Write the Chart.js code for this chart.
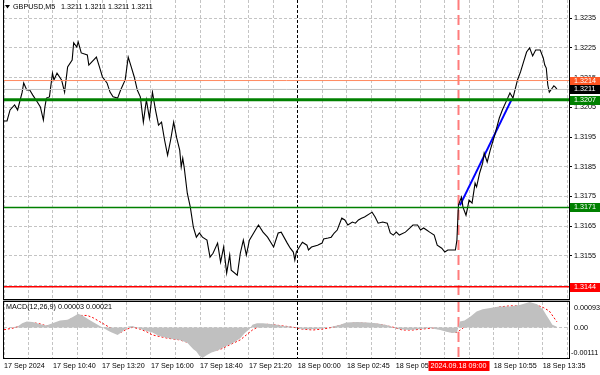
<!DOCTYPE html>
<html>
<head>
<meta charset="utf-8">
<script src="https://cdn.jsdelivr.net/npm/chart.js@4.4.1/dist/chart.umd.min.js"></script>
<style>
  html, body { margin: 0; padding: 0; background: #fff; }
  #wrap { position: relative; width: 600px; height: 375px; overflow: hidden; }
  #main_chart { position: absolute; left: 0; top: 0; }
  #macd_chart { position: absolute; left: 0; top: 300px; }
</style>
</head>
<body>
<div id="wrap">
  <canvas id="main_chart" width="600" height="300"></canvas>
  <canvas id="macd_chart" width="600" height="75"></canvas>
</div>
<script>
// ---------------- DATA ----------------
// x = bar number counted from 17 Sep 08:00 (M5)
const priceBars = [
  0, 2, 4, 7, 9, 12, 13, 15, 17, 19,
  22, 24, 26, 27, 28, 30, 32, 33, 35, 38,
  40, 42, 45, 46, 48, 49, 51, 55, 56, 58,
  61, 63, 65, 68, 70, 72, 75, 77, 80, 82,
  84, 86, 88, 90, 92, 94, 96, 98, 100, 102,
  104, 106, 108, 110, 112, 114, 116, 117, 118, 119,
  121, 123, 125, 127, 129, 131, 134, 136, 138, 141,
  143, 145, 147, 149, 150, 154, 156, 158, 160, 162,
  166, 168, 171, 174, 178, 181, 183, 187, 189, 191,
  192, 193, 195, 197, 200, 201, 203, 207, 210, 211,
  214, 216, 218, 220, 223, 225, 227, 230, 232, 234,
  236, 238, 242, 243, 245, 247, 250, 253, 255, 257,
  259, 261, 265, 268, 270, 273, 275, 277, 279, 281,
  284, 286, 289, 291, 293, 296, 298, 299, 300, 302,
  303, 305, 306, 307, 309, 310, 311, 312, 314, 316,
  317, 319, 321, 324, 327, 329, 332, 334, 336, 339,
  341, 343, 345, 347, 349, 351, 354, 356, 357, 358,
  359, 360, 362, 363, 364, 365
];
const priceValues = [
  1.32004, 1.32004, 1.32041, 1.32058, 1.32041, 1.32101, 1.32132, 1.32108, 1.32108, 1.32091,
  1.32068, 1.32051, 1.32007, 1.32051, 1.32081, 1.32085, 1.32165, 1.32142, 1.32165, 1.32142,
  1.32101, 1.32186, 1.32209, 1.32267, 1.32253, 1.32270, 1.32233, 1.32226, 1.32192, 1.32203,
  1.32219, 1.32186, 1.32152, 1.32132, 1.32101, 1.32085, 1.32081, 1.32108, 1.32142, 1.32219,
  1.32186, 1.32152, 1.32108, 1.32085, 1.32000, 1.32075, 1.32014, 1.32101, 1.32041, 1.31990,
  1.32000, 1.31940, 1.31889, 1.31940, 1.32000, 1.31947, 1.31906, 1.31849, 1.31879, 1.31846,
  1.31761, 1.31714, 1.31647, 1.31613, 1.31627, 1.31613, 1.31603, 1.31546, 1.31559, 1.31593,
  1.31529, 1.31580, 1.31492, 1.31553, 1.31502, 1.31485, 1.31559, 1.31603, 1.31553, 1.31603,
  1.31637, 1.31654, 1.31630, 1.31613, 1.31580, 1.31627, 1.31630, 1.31593, 1.31576, 1.31563,
  1.31536, 1.31563, 1.31580, 1.31596, 1.31586, 1.31570, 1.31580, 1.31586, 1.31593, 1.31607,
  1.31610, 1.31613, 1.31627, 1.31637, 1.31677, 1.31671, 1.31654, 1.31664, 1.31660, 1.31671,
  1.31677, 1.31681, 1.31694, 1.31697, 1.31681, 1.31660, 1.31664, 1.31660, 1.31627, 1.31620,
  1.31630, 1.31620, 1.31630, 1.31644, 1.31654, 1.31654, 1.31637, 1.31644, 1.31637, 1.31630,
  1.31620, 1.31586, 1.31576, 1.31563, 1.31570, 1.31570, 1.31570, 1.31603, 1.31721, 1.31748,
  1.31714, 1.31687, 1.31711, 1.31738, 1.31728, 1.31761, 1.31795, 1.31782, 1.31829, 1.31862,
  1.31896, 1.31866, 1.31906, 1.31957, 1.32014, 1.32041, 1.32075, 1.32098, 1.32081, 1.32142,
  1.32169, 1.32203, 1.32236, 1.32250, 1.32223, 1.32243, 1.32243, 1.32216, 1.32192, 1.32182,
  1.32125, 1.32101, 1.32115, 1.32122, 1.32118, 1.32111
];

// horizontal levels: 1.3214, bid, 1.3207, 1.3171, 1.3144
const levelValues = [1.3214, 1.3211, 1.32075, 1.31713, 1.31446];
const levelLabels = ["1.3214", "1.3211", "1.3207", "1.3171", "1.3144"];

// blue trend line
const trendBars = [301, 335];
const trendValues = [1.3172, 1.32075];

// MACD(12,26,9)
const macdBars = [
  0, 4, 9, 12, 15, 19, 24, 28, 32, 37,
  42, 46, 49, 52, 57, 61, 65, 70, 75, 78,
  82, 85, 88, 93, 98, 102, 106, 111, 116, 121,
  125, 127, 129, 131, 134, 137, 141, 146, 151, 156,
  159, 162, 164, 167, 171, 176, 180, 184, 189, 193,
  197, 202, 209, 215, 222, 226, 233, 240, 246, 253,
  257, 261, 268, 275, 281, 288, 292, 296, 299, 301,
  304, 308, 312, 316, 321, 327, 334, 341, 347, 352,
  356, 358, 360, 362, 365
];
const macdValues = [
  0, 0, 0.00004, 0.00016, 0.00022, 0.0002, 0.00012, 0.00007, 0.00016, 0.00026,
  0.00028, 0.0004, 0.0005, 0.00043, 0.00026, 0.00013, 0, -0.00015, -0.00027, -0.00015,
  0.00004, 0.00006, -0.00002, -0.00011, -0.00018, -0.0003, -0.00035, -0.00042, -0.00045, -0.00055,
  -0.00079, -0.00087, -0.00103, -0.00111, -0.001, -0.00091, -0.00084, -0.00069, -0.00057, -0.00039,
  -0.0002, -0.00006, 0.0001, 0.00016, 0.00016, 0.00013, 0.0001, 0.00006, 0.00004, 0,
  -0.00006, -0.00006, -0.00004, 0.00001, 0.0001, 0.00018, 0.0002, 0.00018, 0.00016, 0.00008,
  0.00001, -0.00006, -0.00009, -0.00005, -0.00002, -0.00009, -0.00015, -0.0002, -0.00018, 0.00022,
  0.00026, 0.0004, 0.00058, 0.00067, 0.00071, 0.00077, 0.00077, 0.00083, 0.00093, 0.00085,
  0.00064, 0.00046, 0.00028, 0.0001, 0.00003
];
const signalBars = [
  0, 6, 11, 15, 19, 24, 28, 32, 37, 42,
  46, 50, 55, 59, 63, 68, 72, 77, 81, 85,
  90, 94, 98, 103, 108, 112, 116, 123, 127, 131,
  136, 143, 149, 156, 160, 164, 169, 174, 178, 184,
  191, 197, 204, 211, 217, 224, 230, 237, 244, 250,
  257, 263, 270, 277, 283, 290, 294, 299, 303, 308,
  312, 316, 321, 327, 334, 341, 347, 352, 356, 360,
  365
];
const signalValues = [
  -0.00008, -0.00002, 0.00006, 0.00016, 0.00018, 0.00013, 0.00006, 0.00006, 0.00016, 0.00026,
  0.00035, 0.00044, 0.00044, 0.00035, 0.00022, 0.00006, -0.00008, -0.00018, -0.00006, 0.00001,
  -0.00006, -0.00015, -0.00027, -0.00033, -0.00039, -0.00042, -0.00045, -0.00057, -0.00081, -0.00093,
  -0.00087, -0.00079, -0.00063, -0.00045, -0.00027, -0.00009, 0.00006, 0.00012, 0.0001, 0.00006,
  0.00001, -0.00006, -0.00009, -0.00005, 0.00001, 0.0001, 0.00016, 0.00016, 0.00013, 0.0001,
  0.00001, -0.00009, -0.00009, -0.00005, -0.00002, -0.00006, -0.00015, -0.00018, -0.00002, 0.00022,
  0.00044, 0.0006, 0.00066, 0.00075, 0.00079, 0.00079, 0.00081, 0.00081, 0.00073, 0.0006,
  0.00021
];
const macdAxisValues = [0.00093, 0, -0.00111];
const macdAxisLabels = ["0.00093", "0.00", "-0.00111"];

// axes
const priceTicks = [1.3145, 1.3155, 1.3165, 1.3175, 1.3185, 1.3195, 1.3205, 1.3215, 1.3225, 1.3235];
const gridBars = [0, 16.2, 32.3, 48.5, 64.7, 80.9, 97.0, 113.2, 129.4, 145.5, 161.7, 177.9,
  194.0, 210.2, 226.4, 242.6, 258.7, 274.9, 291.1, 307.2, 323.4, 339.6, 355.7, 371.9];
const timeLabels = ["17 Sep 2024", "17 Sep 10:40", "17 Sep 13:20", "17 Sep 16:00", "17 Sep 18:40",
  "17 Sep 21:20", "18 Sep 00:00", "18 Sep 02:45", "18 Sep 05:25", "18 Sep 08:05",
  "18 Sep 10:55", "18 Sep 13:35"];
const dayBar = 194.0;
const markerBar = 300;
const markerLabel = "2024.09.18 09:00";
const symbolText = "GBPUSD,M5";
const quoteText = "1.3211 1.3211 1.3211 1.3211";
const macdText = "MACD(12,26,9) 0.00003 0.00021";

// ---------------- STYLE ----------------
const FONT = "7.2px 'Liberation Sans'";
const X_MAX = 373;
const PRICE_MIN = 1.31405, PRICE_MAX = 1.32411;
const GRID = '#c4c4c4';
const levelColors = ['#ff8a60', '#c0c0c0', '#008000', '#008000', '#ff0000'];
const levelWidths = [1, 1, 3, 1.5, 1.5];
const boxColors = ['#ff5522', '#000000', '#008000', '#008000', '#ff0000'];

Chart.defaults.font.family = "'Liberation Sans'";
Chart.defaults.font.size = 7.2;
Chart.defaults.color = '#000';

function pts(xs, ys) {
  return xs.map((x, i) => ({x: x, y: ys[i]}));
}

function gridColor(ctx) {
  return ctx.tick && ctx.tick.value === dayBar ? '#000' : GRID;
}

// red dashed vertical line (both panes)
const markerLine = {
  id: 'markerLine',
  beforeDatasetsDraw(chart) {
    const {ctx, chartArea: a, scales: {x}} = chart;
    const px = Math.round(x.getPixelForValue(markerBar)) + 0.5;
    ctx.save();
    ctx.strokeStyle = '#ff7c7c';
    ctx.lineWidth = 2;
    ctx.setLineDash([10, 5]);
    ctx.beginPath();
    ctx.moveTo(px, a.top);
    ctx.lineTo(px, a.bottom);
    ctx.stroke();
    ctx.restore();
  }
};

function drawFrame(chart) {
  const {ctx, chartArea: a} = chart;
  ctx.save();
  ctx.strokeStyle = '#000';
  ctx.lineWidth = 1;
  ctx.strokeRect(a.left - 0.5, a.top - 0.5, a.right - a.left + 1, a.bottom - a.top + 1);
  ctx.restore();
}

// ---------------- MAIN PANE ----------------
const mainExtras = {
  id: 'mainExtras',
  afterDraw(chart) {
    const {ctx, chartArea: a, scales: {y}} = chart;
    drawFrame(chart);
    ctx.save();
    ctx.font = FONT;
    ctx.textBaseline = 'middle';
    // price boxes on the axis
    levelValues.forEach((v, i) => {
      const py = Math.round(y.getPixelForValue(v));
      ctx.fillStyle = boxColors[i];
      ctx.fillRect(a.right + 1, py - 4, 30, 9);
      ctx.fillStyle = '#fff';
      ctx.fillText(levelLabels[i], a.right + 5, py + 0.5);
    });
    // title
    ctx.fillStyle = '#000';
    ctx.beginPath();
    ctx.moveTo(5, 5); ctx.lineTo(10, 5); ctx.lineTo(7.5, 8.5); ctx.closePath();
    ctx.fill();
    ctx.fillText(symbolText, 13, 7);
    ctx.fillText(quoteText, 61, 7);
    ctx.restore();
  }
};

const levelSets = levelValues.map((v, i) => ({
  data: [{x: 0, y: v}, {x: X_MAX, y: v}],
  borderColor: levelColors[i],
  borderWidth: levelWidths[i],
  pointRadius: 0
}));

new Chart(document.getElementById('main_chart').getContext('2d'), {
  type: 'line',
  data: {
    datasets: [
      ...levelSets,
      {
        data: pts(priceBars, priceValues),
        borderColor: '#000',
        borderWidth: 1.1,
        pointRadius: 0
      },
      {
        data: pts(trendBars, trendValues),
        borderColor: '#0000ff',
        borderWidth: 2,
        pointRadius: 0
      }
    ]
  },
  options: {
    responsive: false,
    animation: false,
    events: [],
    layout: {padding: {left: 4, top: 0, right: 0, bottom: 1}},
    plugins: {legend: {display: false}, tooltip: {enabled: false}},
    elements: {line: {tension: 0}},
    scales: {
      x: {
        type: 'linear', min: 0, max: X_MAX,
        afterBuildTicks: s => { s.ticks = gridBars.map(v => ({value: v})); },
        afterFit: s => { s.height = 0; s.paddingLeft = 0; s.paddingRight = 0; },
        ticks: {display: false},
        grid: {color: gridColor, drawTicks: false},
        border: {display: false, dash: [3, 2]}
      },
      y: {
        position: 'right', min: PRICE_MIN, max: PRICE_MAX,
        afterBuildTicks: s => { s.ticks = priceTicks.map(v => ({value: v})); },
        afterFit: s => { s.width = 31; s.paddingTop = 0; s.paddingBottom = 0; },
        ticks: {padding: 2, callback: v => v.toFixed(4)},
        grid: {color: GRID, tickColor: '#000', tickLength: 3},
        border: {display: false, dash: [3, 2]}
      }
    }
  },
  plugins: [markerLine, mainExtras]
});

// ---------------- MACD PANE ----------------
const macdExtras = {
  id: 'macdExtras',
  afterDraw(chart) {
    const {ctx, chartArea: a, scales: {x, y}} = chart;
    ctx.save();
    ctx.fillStyle = '#a0a0a0';
    ctx.fillRect(a.left - 1, 0, a.right - a.left + 2, 2);
    ctx.restore();
    drawFrame(chart);
    ctx.save();
    ctx.font = FONT;
    ctx.textBaseline = 'middle';
    ctx.fillStyle = '#000';
    ctx.fillText(macdText, 6, 7);
    // axis values
    macdAxisValues.forEach((v, i) => {
      let py = y.getPixelForValue(v);
      if (i === 0) py += 6;
      if (i === 2) py -= 5;
      ctx.fillText(macdAxisLabels[i], i === 2 ? a.right + 2 : a.right + 5, py);
    });
    // date box at the marker
    const px = Math.round(x.getPixelForValue(markerBar)) + 0.5;
    ctx.fillStyle = '#ff0000';
    ctx.fillRect(px - 30, 61, 61, 10);
    ctx.fillStyle = '#fff';
    ctx.textAlign = 'center';
    ctx.fillText(markerLabel, px, 66.5);
    ctx.restore();
  }
};

new Chart(document.getElementById('macd_chart').getContext('2d'), {
  type: 'line',
  data: {
    datasets: [
      {
        data: pts(macdBars, macdValues),
        borderWidth: 0,
        borderColor: 'rgba(0,0,0,0)',
        backgroundColor: '#c0c0c0',
        fill: 'origin',
        pointRadius: 0
      },
      {
        data: pts(signalBars, signalValues),
        borderColor: '#ff0000',
        borderWidth: 1,
        borderDash: [2, 2],
        pointRadius: 0
      }
    ]
  },
  options: {
    responsive: false,
    animation: false,
    events: [],
    layout: {padding: {left: 4, top: 2, right: 0, bottom: 0}},
    plugins: {legend: {display: false}, tooltip: {enabled: false}},
    elements: {line: {tension: 0}},
    scales: {
      x: {
        type: 'linear', min: 0, max: X_MAX,
        afterBuildTicks: s => { s.ticks = gridBars.map(v => ({value: v})); },
        afterFit: s => { s.height = 17; s.paddingLeft = 0; s.paddingRight = 0; },
        ticks: {
          align: 'start', padding: 4, autoSkip: false, maxRotation: 0,
          callback: (v, i) => (i % 2 === 0 ? timeLabels[i / 2] : '')
        },
        grid: {color: gridColor, drawTicks: false},
        border: {display: false, dash: [3, 2]}
      },
      y: {
        position: 'right', min: -0.00111, max: 0.00093,
        afterBuildTicks: s => { s.ticks = [{value: 0}]; },
        afterFit: s => { s.width = 31; s.paddingTop = 0; s.paddingBottom = 0; },
        ticks: {display: false},
        grid: {color: GRID, drawTicks: false},
        border: {display: false, dash: [3, 2]}
      }
    }
  },
  plugins: [markerLine, macdExtras]
});
</script>
</body>
</html>
